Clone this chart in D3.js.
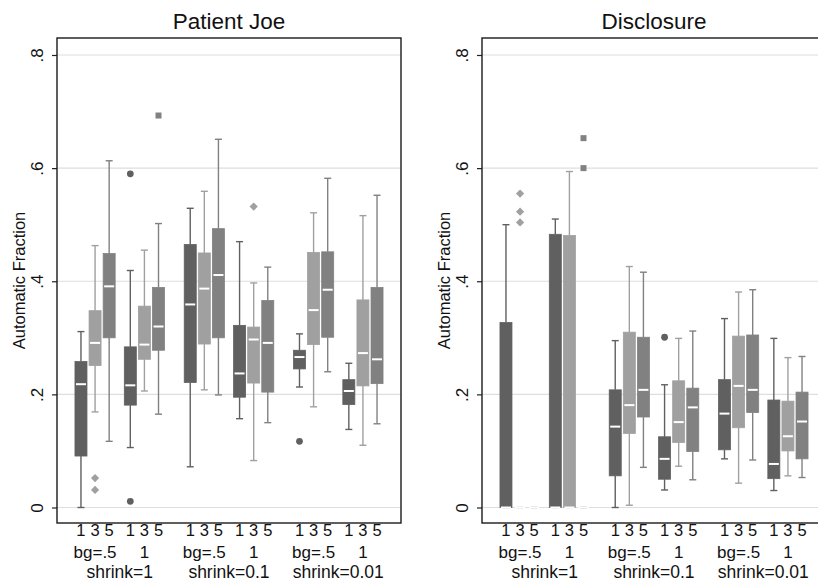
<!DOCTYPE html>
<html>
<head>
<meta charset="utf-8">
<script src="https://cdn.jsdelivr.net/npm/d3@7"></script>
<style>
  body { margin: 0; background: #fff; }
  svg text { font-family: "Liberation Sans", Arial, sans-serif; fill: #111; }
</style>
</head>
<body>
<div id="chart"></div>
<script>
// chart values
var panelTitles = ["Patient Joe", "Disclosure"];
var boxKeys = ["1", "3", "5"];
var bgLabels = ["bg=.5", "1"];
var shrinkLabels = ["shrink=1", "shrink=0.1", "shrink=0.01"];
var yTicks = [0, 0.2, 0.4, 0.6, 0.8];
var yTickLabels = ["0", ".2", ".4", ".6", ".8"];
var yTitle = "Automatic Fraction";

// Patient Joe: 18 boxes, order = shrink, bg, key
var joeLow  = [0.000, 0.169, 0.117, 0.106, 0.206, 0.165, 0.072, 0.208, 0.199, 0.157, 0.083, 0.150, 0.213, 0.178, 0.240, 0.138, 0.110, 0.148];
var joeQ1   = [0.091, 0.251, 0.300, 0.181, 0.262, 0.278, 0.221, 0.289, 0.300, 0.195, 0.220, 0.204, 0.245, 0.288, 0.301, 0.182, 0.215, 0.219];
var joeMed  = [0.218, 0.291, 0.391, 0.216, 0.288, 0.320, 0.359, 0.387, 0.411, 0.237, 0.297, 0.291, 0.266, 0.349, 0.385, 0.206, 0.273, 0.262];
var joeQ3   = [0.258, 0.348, 0.449, 0.284, 0.356, 0.389, 0.465, 0.450, 0.493, 0.322, 0.319, 0.366, 0.278, 0.451, 0.452, 0.226, 0.367, 0.389];
var joeHigh = [0.311, 0.463, 0.613, 0.419, 0.455, 0.502, 0.529, 0.559, 0.651, 0.470, 0.397, 0.425, 0.307, 0.521, 0.582, 0.255, 0.516, 0.552];
var joeOut  = [[1, 0.052], [1, 0.031], [3, 0.590], [3, 0.011], [5, 0.693], [10, 0.532], [12, 0.117]];

// Disclosure
var disLow  = [0, 0, 0, 0, 0, 0, 0.000, 0.004, 0.071, 0.031, 0.073, 0.049, 0.086, 0.043, 0.084, 0.030, 0.056, 0.053];
var disQ1   = [0, 0, 0, 0, 0, 0, 0.056, 0.131, 0.160, 0.050, 0.115, 0.099, 0.102, 0.141, 0.168, 0.051, 0.100, 0.086];
var disMed  = [0, 0, 0, 0, 0, 0, 0.143, 0.181, 0.208, 0.086, 0.151, 0.177, 0.166, 0.215, 0.208, 0.077, 0.126, 0.152];
var disQ3   = [0.327, 0, 0, 0.483, 0.481, 0, 0.208, 0.310, 0.301, 0.125, 0.224, 0.211, 0.226, 0.303, 0.305, 0.190, 0.188, 0.204];
var disHigh = [0.500, 0, 0, 0.510, 0.594, 0, 0.295, 0.426, 0.416, 0.217, 0.299, 0.312, 0.334, 0.381, 0.385, 0.299, 0.265, 0.267];
var disOut  = [[1, 0.555], [1, 0.523], [1, 0.504], [5, 0.653], [5, 0.600], [9, 0.301]];

var boxColors = ["#606060", "#a0a0a0", "#818181"];

function build(low, q1, med, q3, high, out){
  var rows = low.map(function(d, i){
    return {i: i, g: Math.floor(i/3), b: i%3, low: d, q1: q1[i], med: med[i], q3: q3[i], high: high[i]};
  });
  return {rows: rows, out: out.map(function(o){ return {i: o[0], b: o[0]%3, v: o[1]}; })};
}
var panels = [
  build(joeLow, joeQ1, joeMed, joeQ3, joeHigh, joeOut),
  build(disLow, disQ1, disMed, disQ3, disHigh, disOut)
];

var W = 818, H = 585;
var plotTop = 38, plotBottom = 523;
var plotW = 344, panelX = [57, 482];

var svg = d3.select("#chart").append("svg")
            .attr("width", W).attr("height", H)
            .attr("viewBox", `0 0 ${W} ${H}`);

var y = d3.scaleLinear().domain([0, 0.8]).range([507.5, 55]);

// slot position of a box: key step 1, bg step 3.5, shrink step 7.75
function slot(i){
  var g = Math.floor(i/3), b = i%3;
  return 1.7 + b + (g%2)*3.5 + Math.floor(g/2)*7.75;
}
var x = d3.scaleLinear().domain([0, 24.4]).range([0, plotW]);
var boxW = 12, capW = 7;

var diamond = d3.symbol().type(d3.symbolSquare).size(34);
var symbols = [d3.symbol().type(d3.symbolCircle).size(36), diamond, d3.symbol().type(d3.symbolSquare).size(36)];

panels.forEach(function(p, k){
  var g = svg.append("g").attr("transform", `translate(${panelX[k]},0)`);

  // title
  g.append("text")
    .attr("x", plotW/2).attr("y", 29)
    .attr("text-anchor", "middle")
    .style("font-size", "22.5px")
    .text(panelTitles[k]);

  // grid
  g.append("g").selectAll("line").data(yTicks).enter().append("line")
    .attr("x1", 0).attr("x2", plotW)
    .attr("y1", function(d){ return y(d); }).attr("y2", function(d){ return y(d); })
    .attr("stroke", "#dedede").attr("stroke-width", 1.2);

  // y axis
  var yAxis = d3.axisLeft(y).tickValues(yTicks).tickSize(5)
                .tickFormat(function(d, i){ return yTickLabels[i]; });
  var ax = g.append("g").call(yAxis);
  ax.select(".domain").remove();
  ax.selectAll(".tick line").attr("stroke", "#222").attr("stroke-width", 1.2);
  ax.selectAll(".tick text")
    .attr("transform", "rotate(-90)")
    .attr("x", 0).attr("y", -14).attr("dy", 0)
    .attr("text-anchor", "middle")
    .style("font-size", "17px")
    .attr("fill", "#111");

  g.append("text")
    .attr("transform", `translate(${25-panelX[0]},${(plotTop+plotBottom)/2}) rotate(-90)`)
    .attr("text-anchor", "middle")
    .style("font-size", "16.5px")
    .text(yTitle);

  var boxes = g.append("g").selectAll("g.box").data(p.rows).enter()
      .append("g").attr("class", "box")
      .attr("transform", function(d){ return `translate(${x(slot(d.i))},0)`; });

  // whiskers
  boxes.append("line")
    .attr("y1", function(d){ return y(d.high); }).attr("y2", function(d){ return y(d.q3); })
    .attr("stroke", function(d){ return boxColors[d.b]; }).attr("stroke-width", 1.4);
  boxes.append("line")
    .attr("y1", function(d){ return y(d.q1); }).attr("y2", function(d){ return y(d.low); })
    .attr("stroke", function(d){ return boxColors[d.b]; }).attr("stroke-width", 1.4);
  ["high", "low"].forEach(function(key){
    boxes.append("line")
      .attr("x1", -capW/2).attr("x2", capW/2)
      .attr("y1", function(d){ return y(d[key]); }).attr("y2", function(d){ return y(d[key]); })
      .attr("stroke", function(d){ return boxColors[d.b]; }).attr("stroke-width", 1.4);
  });

  boxes.append("rect")
    .attr("x", -boxW/2).attr("width", boxW)
    .attr("y", function(d){ return y(d.q3); })
    .attr("height", function(d){ return y(d.q1) - y(d.q3); })
    .attr("fill", function(d){ return boxColors[d.b]; })
    .attr("stroke", function(d){ return boxColors[d.b]; })
    .attr("stroke-width", 0.8);

  boxes.append("line")
    .attr("x1", -boxW/2 + 1).attr("x2", boxW/2 - 1)
    .attr("y1", function(d){ return y(d.med); }).attr("y2", function(d){ return y(d.med); })
    .attr("stroke", "#fff").attr("stroke-width", 2);

  // outside values
  g.append("g").selectAll("path").data(p.out).enter().append("path")
    .attr("d", function(d){ return symbols[d.b](); })
    .attr("transform", function(d){
      return `translate(${x(slot(d.i))},${y(d.v)})` + (d.b == 1 ? " rotate(45)" : "");
    })
    .attr("fill", function(d){ return boxColors[d.b]; });

  // frame
  g.append("rect")
    .attr("x", 0).attr("y", plotTop)
    .attr("width", plotW).attr("height", plotBottom - plotTop)
    .attr("fill", "none").attr("stroke", "#1a1a1a").attr("stroke-width", 1.4);

  // category labels
  g.append("g").selectAll("text").data(p.rows).enter().append("text")
    .attr("x", function(d){ return x(slot(d.i)); }).attr("y", 536)
    .attr("text-anchor", "middle")
    .style("font-size", "16.5px")
    .text(function(d){ return boxKeys[d.b]; });

  var groups = d3.range(6);
  g.append("g").selectAll("text").data(groups).enter().append("text")
    .attr("x", function(d){ return x(slot(d*3 + 1)); }).attr("y", 558)
    .attr("text-anchor", "middle")
    .style("font-size", "17px")
    .text(function(d){ return bgLabels[d%2]; });

  g.append("g").selectAll("text").data(shrinkLabels).enter().append("text")
    .attr("x", function(d, i){ return (x(slot(i*6 + 1)) + x(slot(i*6 + 4)))/2; }).attr("y", 578)
    .attr("text-anchor", "middle")
    .style("font-size", "17.5px")
    .text(function(d){ return d; });
});
</script>
</body>
</html>
